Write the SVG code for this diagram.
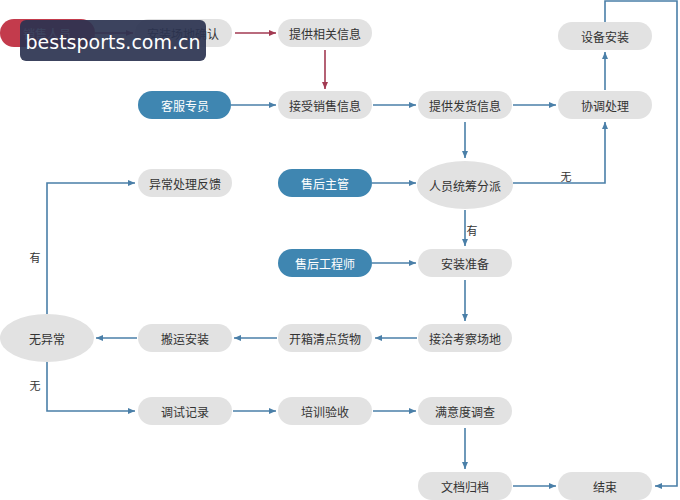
<svg xmlns="http://www.w3.org/2000/svg" width="680" height="500" viewBox="0 0 680 500">
<defs>
<style>
.g rect,.g ellipse{fill:#e2e2e2}
.b rect{fill:#3f86b1}
.r rect{fill:#c33b4c}
text{font-family:"Noto Sans CJK SC","Liberation Sans",sans-serif;font-size:12px;text-anchor:middle;dominant-baseline:central;fill:#333}
.b text,.r text{fill:#fff}
.c path{fill:none;stroke:#4a7fa8;stroke-width:1.6}
.c path.red{stroke:#a23a52}
.lbl{font-size:11px}
</style>
<marker id="a" markerWidth="8" markerHeight="8" refX="7" refY="4" orient="auto" markerUnits="userSpaceOnUse"><path d="M0,1 L7,4 L0,7z" fill="#4a7fa8"/></marker>
<marker id="ar" markerWidth="8" markerHeight="8" refX="7" refY="4" orient="auto" markerUnits="userSpaceOnUse"><path d="M0,1 L7,4 L0,7z" fill="#a23a52"/></marker>
</defs>
<rect width="680" height="500" fill="#fff"/>
<g class="c">
<path class="red" d="M95,33 H133" marker-end="url(#ar)"/>
<path class="red" d="M235,33 H276" marker-end="url(#ar)"/>
<path class="red" d="M325,50 V89" marker-end="url(#ar)"/>
<path d="M231,105 H276" marker-end="url(#a)"/>
<path d="M373,105 H416" marker-end="url(#a)"/>
<path d="M513,105 H556" marker-end="url(#a)"/>
<path d="M465,122 V158" marker-end="url(#a)"/>
<path d="M372,183 H416" marker-end="url(#a)"/>
<path d="M513,183 H605 V122" marker-end="url(#a)"/>
<path d="M605,90 V52" marker-end="url(#a)"/>
<path d="M605,22 V1 H677 V486 H655" marker-end="url(#a)"/>
<path d="M465,210 V246" marker-end="url(#a)"/>
<path d="M372,263 H416" marker-end="url(#a)"/>
<path d="M465,280 V321" marker-end="url(#a)"/>
<path d="M417,338 H375" marker-end="url(#a)"/>
<path d="M277,338 H234" marker-end="url(#a)"/>
<path d="M137,338 H96" marker-end="url(#a)"/>
<path d="M47,314 V183 H135" marker-end="url(#a)"/>
<path d="M47,362 V411 H135" marker-end="url(#a)"/>
<path d="M233,411 H276" marker-end="url(#a)"/>
<path d="M373,411 H416" marker-end="url(#a)"/>
<path d="M465,428 V469" marker-end="url(#a)"/>
<path d="M513,486 H556" marker-end="url(#a)"/>
</g>
<text class="lbl" x="566" y="176">无</text>
<text class="lbl" x="472" y="230">有</text>
<text class="lbl" x="35" y="257">有</text>
<text class="lbl" x="35" y="385">无</text>
<g id="n1" class="r"><rect x="0" y="19" width="95" height="28" rx="14"/><text x="47" y="33">销售人员</text></g>
<g id="n2" class="g"><rect x="135" y="19" width="97" height="28" rx="14"/><text x="183" y="33">安装场地确认</text></g>
<g id="n3" class="g"><rect x="278" y="19" width="94" height="28" rx="14"/><text x="325" y="33">提供相关信息</text></g>
<g id="n4" class="b"><rect x="138" y="91" width="93" height="28" rx="14"/><text x="185" y="105">客服专员</text></g>
<g id="n5" class="g"><rect x="278" y="91" width="94" height="28" rx="14"/><text x="325" y="105">接受销售信息</text></g>
<g id="n6" class="g"><rect x="418" y="91" width="94" height="28" rx="14"/><text x="465" y="105">提供发货信息</text></g>
<g id="n7" class="g"><rect x="558" y="91" width="94" height="28" rx="14"/><text x="605" y="105">协调处理</text></g>
<g id="n8" class="g"><rect x="558" y="22" width="94" height="28" rx="14"/><text x="605" y="36">设备安装</text></g>
<g id="n9" class="b"><rect x="278" y="169" width="94" height="28" rx="14"/><text x="325" y="183">售后主管</text></g>
<g id="n10" class="g"><ellipse cx="465" cy="185" rx="48" ry="24"/><text x="465" y="185">人员统筹分派</text></g>
<g id="n11" class="g"><rect x="138" y="169" width="94" height="28" rx="14"/><text x="185" y="183">异常处理反馈</text></g>
<g id="n12" class="b"><rect x="278" y="249" width="94" height="28" rx="14"/><text x="325" y="263">售后工程师</text></g>
<g id="n13" class="g"><rect x="418" y="249" width="94" height="28" rx="14"/><text x="465" y="263">安装准备</text></g>
<g id="n14" class="g"><ellipse cx="47" cy="338" rx="47" ry="24"/><text x="47" y="338">无异常</text></g>
<g id="n15" class="g"><rect x="138" y="324" width="94" height="28" rx="14"/><text x="185" y="338">搬运安装</text></g>
<g id="n16" class="g"><rect x="278" y="324" width="94" height="28" rx="14"/><text x="325" y="338">开箱清点货物</text></g>
<g id="n17" class="g"><rect x="418" y="324" width="94" height="28" rx="14"/><text x="465" y="338">接洽考察场地</text></g>
<g id="n18" class="g"><rect x="138" y="397" width="94" height="28" rx="14"/><text x="185" y="411">调试记录</text></g>
<g id="n19" class="g"><rect x="278" y="397" width="94" height="28" rx="14"/><text x="325" y="411">培训验收</text></g>
<g id="n20" class="g"><rect x="418" y="397" width="94" height="28" rx="14"/><text x="465" y="411">满意度调查</text></g>
<g id="n21" class="g"><rect x="418" y="472" width="94" height="28" rx="14"/><text x="465" y="486">文档归档</text></g>
<g id="n22" class="g"><rect x="558" y="472" width="94" height="28" rx="14"/><text x="605" y="486">结束</text></g>
<g id="watermark"><rect x="20" y="20" width="186" height="41" rx="6" fill="#2b3350" fill-opacity="0.92"/><text x="113" y="42" style="font-family:'DejaVu Sans',sans-serif;font-size:19px;fill:#fff">bestsports.com.cn</text></g>
</svg>
